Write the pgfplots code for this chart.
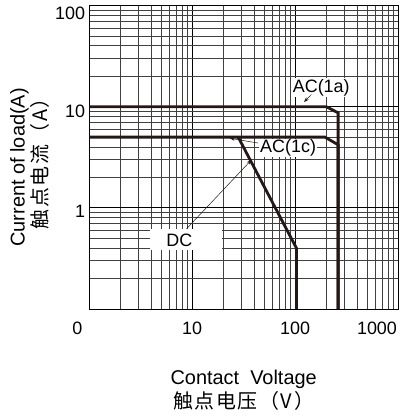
\documentclass[border=0pt]{standalone}
\usepackage{fontspec}
\setmainfont{Liberation Sans}
\newfontfamily\cjk[LetterSpace=8]{Noto Sans CJK SC}
\usepackage{pgfplots}
\pgfplotsset{compat=1.18}
\usetikzlibrary{arrows.meta}
\definecolor{ink}{RGB}{35,24,21}

\begin{document}
\begin{tikzpicture}
\path[use as bounding box] (-89.3bp,-109bp) rectangle (320.7bp,309bp);
\begin{axis}[
  at={(0,0)}, anchor=south west,
  width=308.7bp, height=303.5bp, scale only axis,
  xmode=log, ymode=log,
  xmin=1, xmax=1000, ymin=0.1, ymax=100,
  xtick={1,10,100,1000},
  xticklabels={{\makebox[0pt]{0\hspace{24bp}}},10,100,{\makebox[0pt]{1000\hspace{42bp}}}},
  ytick={0.1,1,10,100},
  yticklabels={,{\raisebox{-3bp}[\height][\depth]{1}},{\raisebox{-5bp}[\height][\depth]{10}},{\raisebox{-8bp}[\height][\depth]{100}}},
  minor xtick={2,3,4,5,6,7,8,9,20,30,40,50,60,70,80,90,200,300,400,500,600,700,800,900},
  minor ytick={0.2,0.3,0.4,0.5,0.6,0.7,0.8,0.9,2,3,4,5,6,7,8,9,20,30,40,50,60,70,80,90},
  tick label style={font=\fontsize{18}{20}\selectfont},
  xticklabel style={anchor=north, inner sep=0pt, yshift=-13bp},
  yticklabel style={anchor=east, inner sep=0pt, xshift=-4bp},
  major tick length=0pt, minor tick length=0pt,
  grid=both,
  major grid style={black, line width=0.7bp},
  minor grid style={black!75, line width=0.6bp},
  axis line style={black, line width=0.8bp},
  /pgf/number format/assume math mode=true,
  clip=false,
]
% white patches behind the labels
\fill[white] (axis cs:3.88,0.379) rectangle (axis cs:19.4,0.614);
\node[fill=white, inner sep=1.5bp, font=\fontsize{18}{20}\selectfont] at (axis cs:179.6,15.5) {AC(1a)};
\node[fill=white, inner sep=1bp, font=\fontsize{18}{20}\selectfont] at (axis cs:85.5,3.9) {AC(1c)};
\node[inner sep=0pt, font=\fontsize{18}{20}\selectfont] at (axis cs:7.5,0.477) {DC};

% AC(1a)
\addplot[ink, line width=2.8bp, line join=miter] coordinates {(1,10) (200,10) (262,8.7) (262,0.1)};
% AC(1c)
\addplot[ink, line width=2.8bp, line join=miter] coordinates {(1,5) (195,5) (262,4.2) (262,0.1)};
% DC
\addplot[ink, line width=2.8bp, line join=miter] coordinates {(28,5) (103,0.4) (103,0.1)};

\draw[ink, line width=0.5bp, -{Stealth[length=5bp,width=3.5bp]}] (axis cs:144,13.2) -- (axis cs:122,11.1);
\draw[ink, line width=0.5bp, -{Stealth[length=5bp,width=3.5bp]}] (axis cs:43.7,4.37) -- (axis cs:23.2,4.87);
\draw[ink, line width=0.5bp, -{Stealth[length=5bp,width=3.5bp]}] (axis cs:8.83,0.622) -- (axis cs:37.7,2.98);
\end{axis}

\node[rotate=90, anchor=north east, align=right, inner sep=0pt,
      font=\fontsize{20}{22.5}\selectfont] at (-79.3bp,221bp)
      {Current of load(A)\\{\cjk 触点电流（A）}};
\node[anchor=north, align=center, inner sep=0pt,
      font=\fontsize{20}{24}\selectfont] at (154.35bp,-61bp)
      {Contact\ \ Voltage\\{\cjk 触点电压（V）}};
\end{tikzpicture}
\end{document}
